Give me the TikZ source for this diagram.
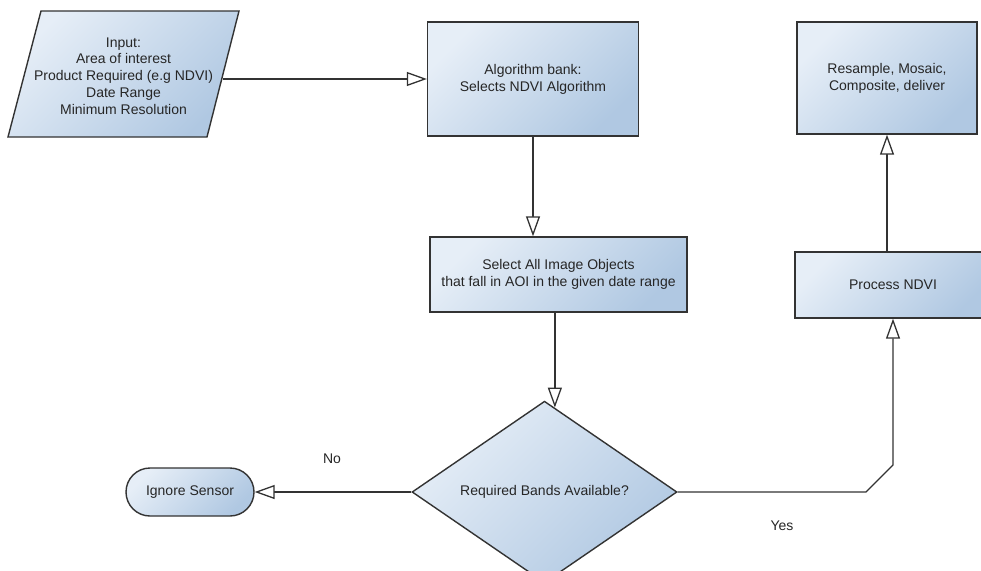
\documentclass[tikz,border=0pt]{standalone}
\usepackage{fontspec}
\setmainfont{Liberation Sans}
\usetikzlibrary{shapes.geometric,arrows.meta}
\definecolor{cL}{HTML}{E6EEF7}
\definecolor{cD}{HTML}{B0C8E2}
\definecolor{lineC}{HTML}{333333}
\tikzset{
  fillshade/.style={top color=cL, bottom color=cD, shading angle=45},
  txt/.style={font=\fontsize{14}{16.8}\selectfont, align=center, text=black!85},
  box/.style={draw=lineC, line width=1.4pt, fillshade, txt, inner sep=0pt},
  conn/.style={draw=lineC, line width=1.3pt, -{Triangle[open, length=20pt, width=14pt, fill=white]}},
  plain/.style={draw=lineC, line width=1.3pt},
}
\begin{document}
\begin{tikzpicture}[x=1pt, y=-1pt]
\useasboundingbox (0,0) rectangle (981,570);
\clip (0,0) rectangle (981,570);
% input parallelogram
\path[draw=lineC, line width=1.4pt, fillshade] (41,11) -- (239,11) -- (207,137) -- (8,137) -- cycle;
\node[txt] (inp) at (123.5,76) {Input:\\Area of interest\\Product Required (e.g NDVI)\\Date Range\\Minimum Resolution};
\coordinate (inpR) at (223,79);
% boxes
\node[box, rectangle, minimum width=211pt, minimum height=114pt] (alg) at (533,79) {Algorithm bank:\\Selects NDVI Algorithm};
\node[box, rectangle, minimum width=180pt, minimum height=112pt] (res) at (887,78) {Resample, Mosaic,\\Composite, deliver};
\node[box, rectangle, minimum width=257pt, minimum height=75pt] (sel) at (558.5,274.5) {Select All Image Objects\\that fall in AOI in the given date range};
\node[box, rectangle, minimum width=196pt, minimum height=66pt] (proc) at (893,285) {Process NDVI};
\node[box, diamond, minimum width=265pt, minimum height=168pt] (dec) at (544.5,492) {Required Bands Available?};
\node[box, rectangle, rounded corners=24pt, minimum width=128pt, minimum height=48pt] (ign) at (190,492) {Ignore Sensor};
% labels
\node[txt] (no) at (332,459) {No};
\node[txt] (yes) at (782,526) {Yes};
% connectors
\draw[conn] (inpR) -- (alg.west);
\draw[conn] (alg.south) -- (alg.south |- sel.north);
\draw[conn] (sel.south -| dec.83.8) -- (dec.83.8);
\draw[conn] (dec.west) -- (ign.east);
\coordinate (b1) at (866,492);
\coordinate (b2) at (893,465);
\draw[conn] (dec.east) -- (b1) -- (b2) -- (proc.south);
\draw[conn] (proc.north -| res.south) -- (res.south);
\end{tikzpicture}
\end{document}
